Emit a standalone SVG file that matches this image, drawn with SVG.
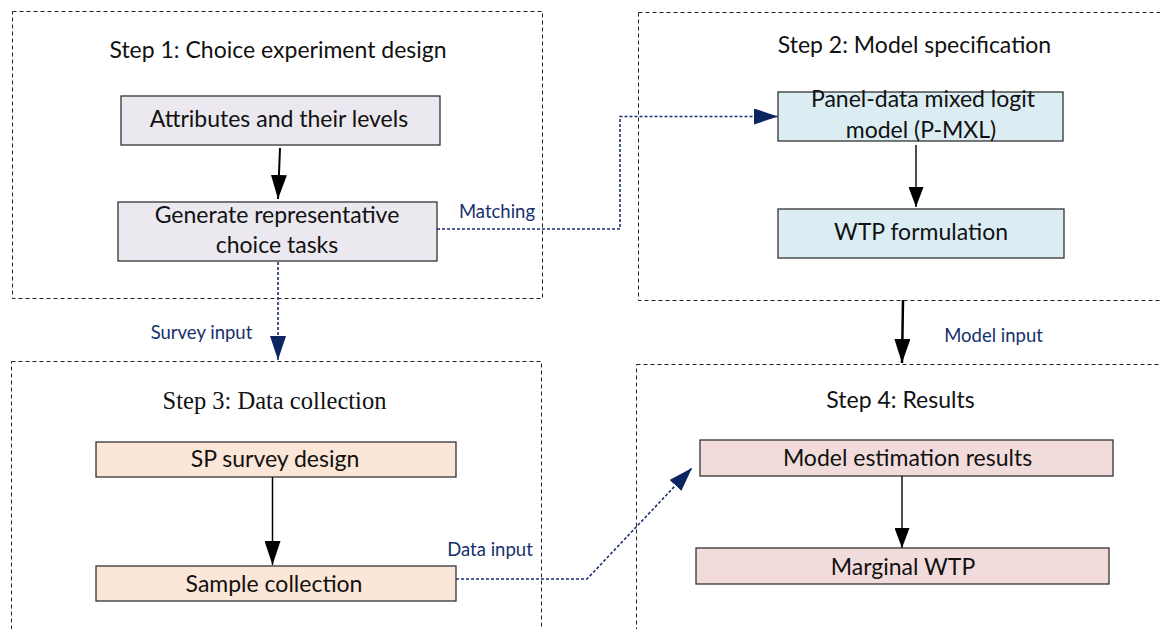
<svg xmlns="http://www.w3.org/2000/svg" width="1160" height="629" viewBox="0 0 1160 629">
<style>
.grp{fill:none;stroke:#222;stroke-width:1;stroke-dasharray:4 3}
.node{stroke:#333;stroke-width:1.3}
.s1{fill:#ebe8ef}.s2{fill:#dbedf3}.s3{fill:#fbe6d7}.s4{fill:#f2dcdb}
.t{font-family:Lato,"Liberation Sans",sans-serif;font-size:23px;fill:#111;text-anchor:middle}
.ti{font-family:Lato,"Liberation Sans",sans-serif;font-size:23px;fill:#111;text-anchor:middle}
.ts{font-family:"Liberation Serif","Times New Roman",serif;font-size:24.5px;fill:#111;text-anchor:middle}
.lb{font-family:Lato,"Liberation Sans",sans-serif;font-size:18.5px;fill:#15306a;text-anchor:middle}
.blk{fill:none;stroke:#000}
.nav{fill:none;stroke:#1b3272;stroke-width:1.6;stroke-dasharray:3 2}
</style>
<defs>
<marker id="ab" viewBox="0 0 24 16" refX="24" refY="8" markerWidth="24" markerHeight="16" markerUnits="userSpaceOnUse" orient="auto"><path d="M0,0 L24,8 L0,16 Z" fill="#000"/></marker>
<marker id="abs" viewBox="0 0 20 15" refX="20" refY="7.5" markerWidth="20" markerHeight="15" markerUnits="userSpaceOnUse" orient="auto"><path d="M0,0 L20,7.5 L0,15 Z" fill="#000"/></marker>
<marker id="an" viewBox="0 0 24 16" refX="24" refY="8" markerWidth="24" markerHeight="16" markerUnits="userSpaceOnUse" orient="auto"><path d="M0,0 L24,8 L0,16 Z" fill="#0d2463"/></marker>
</defs>

<g id="step1">
<rect class="grp" x="12.5" y="11.5" width="530" height="287"/>
<text class="ti" x="278" y="58">Step 1: Choice experiment design</text>
</g>
<g id="step2">
<rect class="grp" x="638.5" y="12.5" width="540" height="288"/>
<text class="ti" x="914.5" y="53">Step 2: Model specification</text>
</g>
<g id="step3">
<rect class="grp" x="11.5" y="361.5" width="530" height="290"/>
<text class="ts" x="274.5" y="409">Step 3: Data collection</text>
</g>
<g id="step4">
<rect class="grp" x="636.5" y="364.5" width="540" height="290"/>
<text class="ti" x="900.5" y="408">Step 4: Results</text>
</g>

<g id="attributes">
<rect class="node s1" x="121" y="96" width="319" height="49"/>
<text class="t" x="279" y="127">Attributes and their levels</text>
</g>
<g id="generate">
<rect class="node s1" x="118" y="202" width="319" height="59"/>
<text class="t" x="277" y="223">Generate representative</text>
<text class="t" x="277" y="253">choice tasks</text>
</g>
<g id="pmxl">
<rect class="node s2" x="778" y="92" width="285" height="49"/>
<text class="t" x="923" y="107">Panel-data mixed logit</text>
<text class="t" x="921" y="138">model (P-MXL)</text>
</g>
<g id="wtpform">
<rect class="node s2" x="778" y="209" width="286" height="49"/>
<text class="t" x="921" y="240">WTP formulation</text>
</g>
<g id="spsurvey">
<rect class="node s3" x="96" y="442" width="360" height="35"/>
<text class="t" x="275" y="467">SP survey design</text>
</g>
<g id="sample">
<rect class="node s3" x="96" y="566" width="360" height="35"/>
<text class="t" x="274" y="592">Sample collection</text>
</g>
<g id="estimation">
<rect class="node s4" x="700" y="440" width="413" height="36"/>
<text class="t" x="907.5" y="466">Model estimation results</text>
</g>
<g id="marginal">
<rect class="node s4" x="696" y="548" width="413" height="36"/>
<text class="t" x="903" y="575">Marginal WTP</text>
</g>

<g id="connectors">
<path class="blk" stroke-width="2" d="M280,148 L278,199" marker-end="url(#ab)"/>
<path class="blk" stroke-width="1.4" d="M916,145 L916,207" marker-end="url(#abs)"/>
<path class="blk" stroke-width="1.5" d="M272.5,477 L272.5,565" marker-end="url(#ab)"/>
<path class="blk" stroke-width="1.4" d="M902,476 L902,548" marker-end="url(#abs)"/>
<path class="blk" stroke-width="2.5" d="M903,300 L902,363" marker-end="url(#ab)"/>
<path class="nav" d="M437,229 L620,229 L620,116.5 L778,116.5" marker-end="url(#an)"/>
<path class="nav" d="M278,262 L278,360" marker-end="url(#an)"/>
<path class="nav" d="M456,579 L587,579 L692,468" marker-end="url(#an)"/>
<text class="lb" x="497" y="218">Matching</text>
<text class="lb" x="201.5" y="339">Survey input</text>
<text class="lb" x="490" y="556">Data input</text>
<text class="lb" x="993.5" y="342">Model input</text>
</g>
</svg>
